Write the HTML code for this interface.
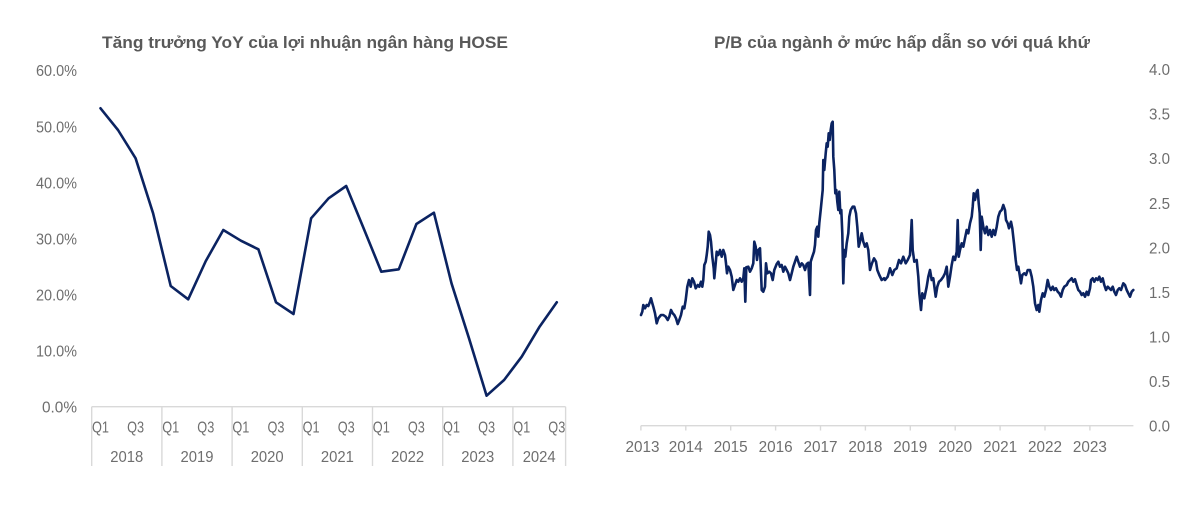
<!DOCTYPE html>
<html>
<head>
<meta charset="utf-8">
<style>
  html, body { margin: 0; padding: 0; background: #ffffff; }
  svg { display: block; }
  text { font-family: "Liberation Sans", "Noto Sans CJK SC", sans-serif; }
</style>
</head>
<body>
<svg width="1200" height="514" viewBox="0 0 1200 514" xmlns="http://www.w3.org/2000/svg">
  <rect x="0" y="0" width="1200" height="514" fill="#ffffff"/>

  <!-- ===== LEFT CHART ===== -->
  <text x="305" y="48" text-anchor="middle" font-size="17" font-weight="bold" fill="#595959" textLength="406" lengthAdjust="spacingAndGlyphs">Tăng trưởng YoY của lợi nhuận ngân hàng HOSE</text>

  <g font-size="15.5" fill="#6e6e6e" text-anchor="end">
    <text x="77" y="76.2" textLength="41" lengthAdjust="spacingAndGlyphs">60.0%</text>
    <text x="77" y="132.3" textLength="41" lengthAdjust="spacingAndGlyphs">50.0%</text>
    <text x="77" y="188.4" textLength="41" lengthAdjust="spacingAndGlyphs">40.0%</text>
    <text x="77" y="244.5" textLength="41" lengthAdjust="spacingAndGlyphs">30.0%</text>
    <text x="77" y="300.6" textLength="41" lengthAdjust="spacingAndGlyphs">20.0%</text>
    <text x="77" y="356.7" textLength="41" lengthAdjust="spacingAndGlyphs">10.0%</text>
    <text x="77" y="412.7" textLength="35" lengthAdjust="spacingAndGlyphs">0.0%</text>
  </g>

  <!-- category axis box -->
  <g stroke="#d9d9d9" stroke-width="1.4" fill="none">
    <line x1="91.7" y1="406.7" x2="565.6" y2="406.7"/>
    <line x1="91.7" y1="406.7" x2="91.7" y2="466"/>
    <line x1="161.9" y1="406.7" x2="161.9" y2="466"/>
    <line x1="232.1" y1="406.7" x2="232.1" y2="466"/>
    <line x1="302.3" y1="406.7" x2="302.3" y2="466"/>
    <line x1="372.5" y1="406.7" x2="372.5" y2="466"/>
    <line x1="442.7" y1="406.7" x2="442.7" y2="466"/>
    <line x1="512.9" y1="406.7" x2="512.9" y2="466"/>
    <line x1="565.6" y1="406.7" x2="565.6" y2="466"/>
  </g>

  <g font-size="15.5" fill="#6e6e6e" text-anchor="middle">
    <text x="100.5" y="432.5" textLength="17" lengthAdjust="spacingAndGlyphs">Q1</text>
    <text x="135.6" y="432.5" textLength="17" lengthAdjust="spacingAndGlyphs">Q3</text>
    <text x="170.7" y="432.5" textLength="17" lengthAdjust="spacingAndGlyphs">Q1</text>
    <text x="205.8" y="432.5" textLength="17" lengthAdjust="spacingAndGlyphs">Q3</text>
    <text x="240.9" y="432.5" textLength="17" lengthAdjust="spacingAndGlyphs">Q1</text>
    <text x="276.0" y="432.5" textLength="17" lengthAdjust="spacingAndGlyphs">Q3</text>
    <text x="311.1" y="432.5" textLength="17" lengthAdjust="spacingAndGlyphs">Q1</text>
    <text x="346.2" y="432.5" textLength="17" lengthAdjust="spacingAndGlyphs">Q3</text>
    <text x="381.3" y="432.5" textLength="17" lengthAdjust="spacingAndGlyphs">Q1</text>
    <text x="416.4" y="432.5" textLength="17" lengthAdjust="spacingAndGlyphs">Q3</text>
    <text x="451.5" y="432.5" textLength="17" lengthAdjust="spacingAndGlyphs">Q1</text>
    <text x="486.6" y="432.5" textLength="17" lengthAdjust="spacingAndGlyphs">Q3</text>
    <text x="521.7" y="432.5" textLength="17" lengthAdjust="spacingAndGlyphs">Q1</text>
    <text x="556.8" y="432.5" textLength="17" lengthAdjust="spacingAndGlyphs">Q3</text>

    <text x="126.8" y="462" textLength="33" lengthAdjust="spacingAndGlyphs">2018</text>
    <text x="197.0" y="462" textLength="33" lengthAdjust="spacingAndGlyphs">2019</text>
    <text x="267.2" y="462" textLength="33" lengthAdjust="spacingAndGlyphs">2020</text>
    <text x="337.4" y="462" textLength="33" lengthAdjust="spacingAndGlyphs">2021</text>
    <text x="407.6" y="462" textLength="33" lengthAdjust="spacingAndGlyphs">2022</text>
    <text x="477.8" y="462" textLength="33" lengthAdjust="spacingAndGlyphs">2023</text>
    <text x="539.2" y="462" textLength="33" lengthAdjust="spacingAndGlyphs">2024</text>
  </g>

  <polyline fill="none" stroke="#0b2361" stroke-width="2.6" stroke-linejoin="round" stroke-linecap="round"
    points="100.5,108.3 118.0,130 135.6,158.3 153.1,213.3 170.7,286 188.2,299.3 205.8,261 223.3,230 240.9,240.7 258.4,249.3 276.0,302.3 293.5,314 311.1,218.3 328.6,198.3 346.2,186 363.7,228.5 381.3,271.7 398.8,269.3 416.4,224 433.9,212.7 451.5,283.3 469.0,338.3 486.6,395.7 504.1,380 521.7,356.7 539.2,327.3 556.8,302.3"/>

  <!-- ===== RIGHT CHART ===== -->
  <text x="902" y="48" text-anchor="middle" font-size="17" font-weight="bold" fill="#595959" textLength="376" lengthAdjust="spacingAndGlyphs">P/B của ngành ở mức hấp dẫn so với quá khứ</text>

  <g font-size="15.5" fill="#6e6e6e" text-anchor="start">
    <text x="1149" y="75.1" textLength="21" lengthAdjust="spacingAndGlyphs">4.0</text>
    <text x="1149" y="119.7" textLength="21" lengthAdjust="spacingAndGlyphs">3.5</text>
    <text x="1149" y="164.2" textLength="21" lengthAdjust="spacingAndGlyphs">3.0</text>
    <text x="1149" y="208.8" textLength="21" lengthAdjust="spacingAndGlyphs">2.5</text>
    <text x="1149" y="253.3" textLength="21" lengthAdjust="spacingAndGlyphs">2.0</text>
    <text x="1149" y="297.9" textLength="21" lengthAdjust="spacingAndGlyphs">1.5</text>
    <text x="1149" y="342.4" textLength="21" lengthAdjust="spacingAndGlyphs">1.0</text>
    <text x="1149" y="387.0" textLength="21" lengthAdjust="spacingAndGlyphs">0.5</text>
    <text x="1149" y="431.5" textLength="21" lengthAdjust="spacingAndGlyphs">0.0</text>
  </g>

  <g stroke="#d9d9d9" stroke-width="1.4" fill="none">
    <line x1="640.9" y1="425.7" x2="1133.4" y2="425.7"/>
    <line x1="640.9" y1="425.7" x2="640.9" y2="430.5"/>
    <line x1="685.8" y1="425.7" x2="685.8" y2="430.5"/>
    <line x1="730.7" y1="425.7" x2="730.7" y2="430.5"/>
    <line x1="775.6" y1="425.7" x2="775.6" y2="430.5"/>
    <line x1="820.5" y1="425.7" x2="820.5" y2="430.5"/>
    <line x1="865.4" y1="425.7" x2="865.4" y2="430.5"/>
    <line x1="910.3" y1="425.7" x2="910.3" y2="430.5"/>
    <line x1="955.2" y1="425.7" x2="955.2" y2="430.5"/>
    <line x1="1000.1" y1="425.7" x2="1000.1" y2="430.5"/>
    <line x1="1045.0" y1="425.7" x2="1045.0" y2="430.5"/>
    <line x1="1089.9" y1="425.7" x2="1089.9" y2="430.5"/>
  </g>

  <g font-size="15.5" fill="#6e6e6e" text-anchor="middle">
    <text x="642.5" y="452" textLength="34" lengthAdjust="spacingAndGlyphs">2013</text>
    <text x="685.8" y="452" textLength="34" lengthAdjust="spacingAndGlyphs">2014</text>
    <text x="730.7" y="452" textLength="34" lengthAdjust="spacingAndGlyphs">2015</text>
    <text x="775.6" y="452" textLength="34" lengthAdjust="spacingAndGlyphs">2016</text>
    <text x="820.5" y="452" textLength="34" lengthAdjust="spacingAndGlyphs">2017</text>
    <text x="865.4" y="452" textLength="34" lengthAdjust="spacingAndGlyphs">2018</text>
    <text x="910.3" y="452" textLength="34" lengthAdjust="spacingAndGlyphs">2019</text>
    <text x="955.2" y="452" textLength="34" lengthAdjust="spacingAndGlyphs">2020</text>
    <text x="1000.1" y="452" textLength="34" lengthAdjust="spacingAndGlyphs">2021</text>
    <text x="1045.0" y="452" textLength="34" lengthAdjust="spacingAndGlyphs">2022</text>
    <text x="1089.9" y="452" textLength="34" lengthAdjust="spacingAndGlyphs">2023</text>
  </g>
  <rect x="620" y="432" width="6" height="26" fill="#ffffff"/>

  <polyline fill="none" stroke="#0b2361" stroke-width="2.6" stroke-linejoin="round" stroke-linecap="round"
    points="641,315 642.3,311.7 643.3,305 645,308.3 646.7,305 648.3,306 650,301.7 651,298.3 652.3,303.3 653.3,306.7 655,313.3 656.7,323.3 658.3,318.3 661,315 663.3,315 665.7,316.7 667.7,320 669.3,316.7 671,310 672.7,313.3 674.3,315 676,318.3 677.7,324 679.3,320 681,315 682.7,306.7 684.3,308.3 685.7,300 687.3,286.7 689,280 690.7,286.7 692.3,278.3 694,281.7 695.7,288.3 697.7,285 699.3,286.7 701,281.7 702.3,286.7 703.3,280 704.3,265 705.7,261.7 706.7,255 707.7,246.7 708.7,231.7 710,235 711,241.7 712.3,256.7 713.7,268.3 714.3,278.3 715.7,263.3 716.7,251.7 718.3,255 720,250 721.7,256.7 723.3,250 725,255 726,263.3 727,273.3 728.3,266.7 730,270 731.7,276.7 733.3,290 735,285 736.7,280 738.3,281.7 740,278.3 741.7,281.7 743.3,278.3 744.3,268.3 745.3,301.7 746.3,267.3 748.3,266.7 750,271.7 751.7,268.3 753.3,263.3 754.3,241.7 755.7,246.7 757,260 758.3,250 760,248.3 761.7,290 763.3,291.7 765,286.7 766,263.3 767.3,273.3 769.3,271.7 771,273.3 772.7,280 774.3,270 776.7,264 778.3,261.7 780,266.7 781.7,265 783.3,271.7 785,266.7 786.7,270 788.3,273.3 790,280 791.7,273.3 793.3,266.7 795,261.7 796.7,256.7 798.3,261.7 800,266.7 801.7,263.3 803.3,265 805,270 806.7,264 808.3,262.7 810,295 810.7,261.7 812.3,256.7 814,251.7 815,245 816,230 817.3,226.7 818.3,236.7 819.3,223.3 820.7,210 821.7,200 822.7,190 823.3,160 824.3,170 825.7,153.3 826.7,143.3 827.7,146.7 828.7,133.3 829.7,140 830.7,130 831.7,123.3 832.7,121.7 833.3,156.7 834.3,170 835.3,193.3 836.3,190 837.3,201.7 838.3,210 839.3,191.7 840.3,213.3 841.3,210 842.3,233.3 843.3,283.3 844.3,250 845.3,256.7 846.7,243.3 848.3,233.3 849.3,216.7 850.7,210 852.7,206.7 854.3,206.7 856,213.3 857.3,226.7 858.7,246.7 860,241.7 861.7,233.3 863.3,241.7 865,246.7 866.7,243.3 868.3,250 870,270 872,263.3 874,258.3 876,261.7 877.3,270 879.3,275 881.7,280 884,278.3 885,280 887.7,276.7 890,268.3 892.3,275 894.3,270 896.7,268.3 899,260 901,263.3 903.3,256.7 905.7,263.3 907.7,260 910,255 911.7,220 912.7,250 914.3,261.7 916.7,260 918.3,276.7 919.3,293.3 921,310 922.3,293.3 924.3,298.3 926.7,286.7 928.3,276.7 930,270 931.7,280 933.3,278.3 935.7,296.7 937.3,286.7 939,281.7 941,280 943.3,276.7 945,273.3 946.7,266.7 948.3,286.7 950,276.7 951.7,265 953.3,256.7 955,260 956.7,251.7 957.7,220 958.7,256.7 960,250 961.7,243.3 963.3,246.7 965,238.3 966.7,230 968.3,233.3 970,223.3 971.7,216.7 972.7,206.7 973.7,193.3 975,200 976.7,191.7 977.7,190 978.7,203.3 979.7,213.3 980.7,250 981.7,216.7 983.3,226.7 985,233.3 986.7,226.7 988.3,235 990,230 991.7,236.7 993.3,230 995,235 996.7,226.7 998.3,216.7 1000,211.7 1001.7,210 1003.3,205 1005,210 1006,220 1007.7,223.3 1009,228.3 1011,221.7 1012.3,228.3 1014,243.3 1015.7,260 1017,270 1018.3,266.7 1019.7,275 1021,283.3 1022.3,275 1024.3,273.3 1026,275 1027.7,270 1030,270 1031.7,276.7 1033.3,286.7 1035,303.3 1036.7,310 1038.3,305 1039.3,311.7 1041,300 1042.7,293.3 1044.3,296.7 1046,290 1047.7,280 1049.3,286.7 1051,290 1052.7,286.7 1054.3,290 1056,288.3 1057.7,291.7 1059.3,293.3 1061,296.7 1062.7,290 1064.3,286.7 1066.7,285 1068.3,281.7 1070,280 1071.7,278.3 1073.3,281.7 1075,279.3 1076.7,285 1078.3,290 1080,291.7 1081.7,295 1083.3,293.3 1085,296.7 1086.7,291.7 1088.3,295 1090,288.3 1091,280 1092.7,278.3 1094.3,281.7 1096,278.3 1097.7,280 1099.3,276.7 1101,281.7 1102.7,278.3 1104.3,285 1106,290 1107.7,286.7 1109.3,288.3 1111,290 1112.7,286.7 1114.3,291.7 1116,295 1117.7,290 1119.3,288.3 1121,290 1123.3,283.3 1125,285 1126.7,290 1128.3,293.3 1130,296.7 1131.7,291.7 1133.3,290"/>
</svg>
</body>
</html>
